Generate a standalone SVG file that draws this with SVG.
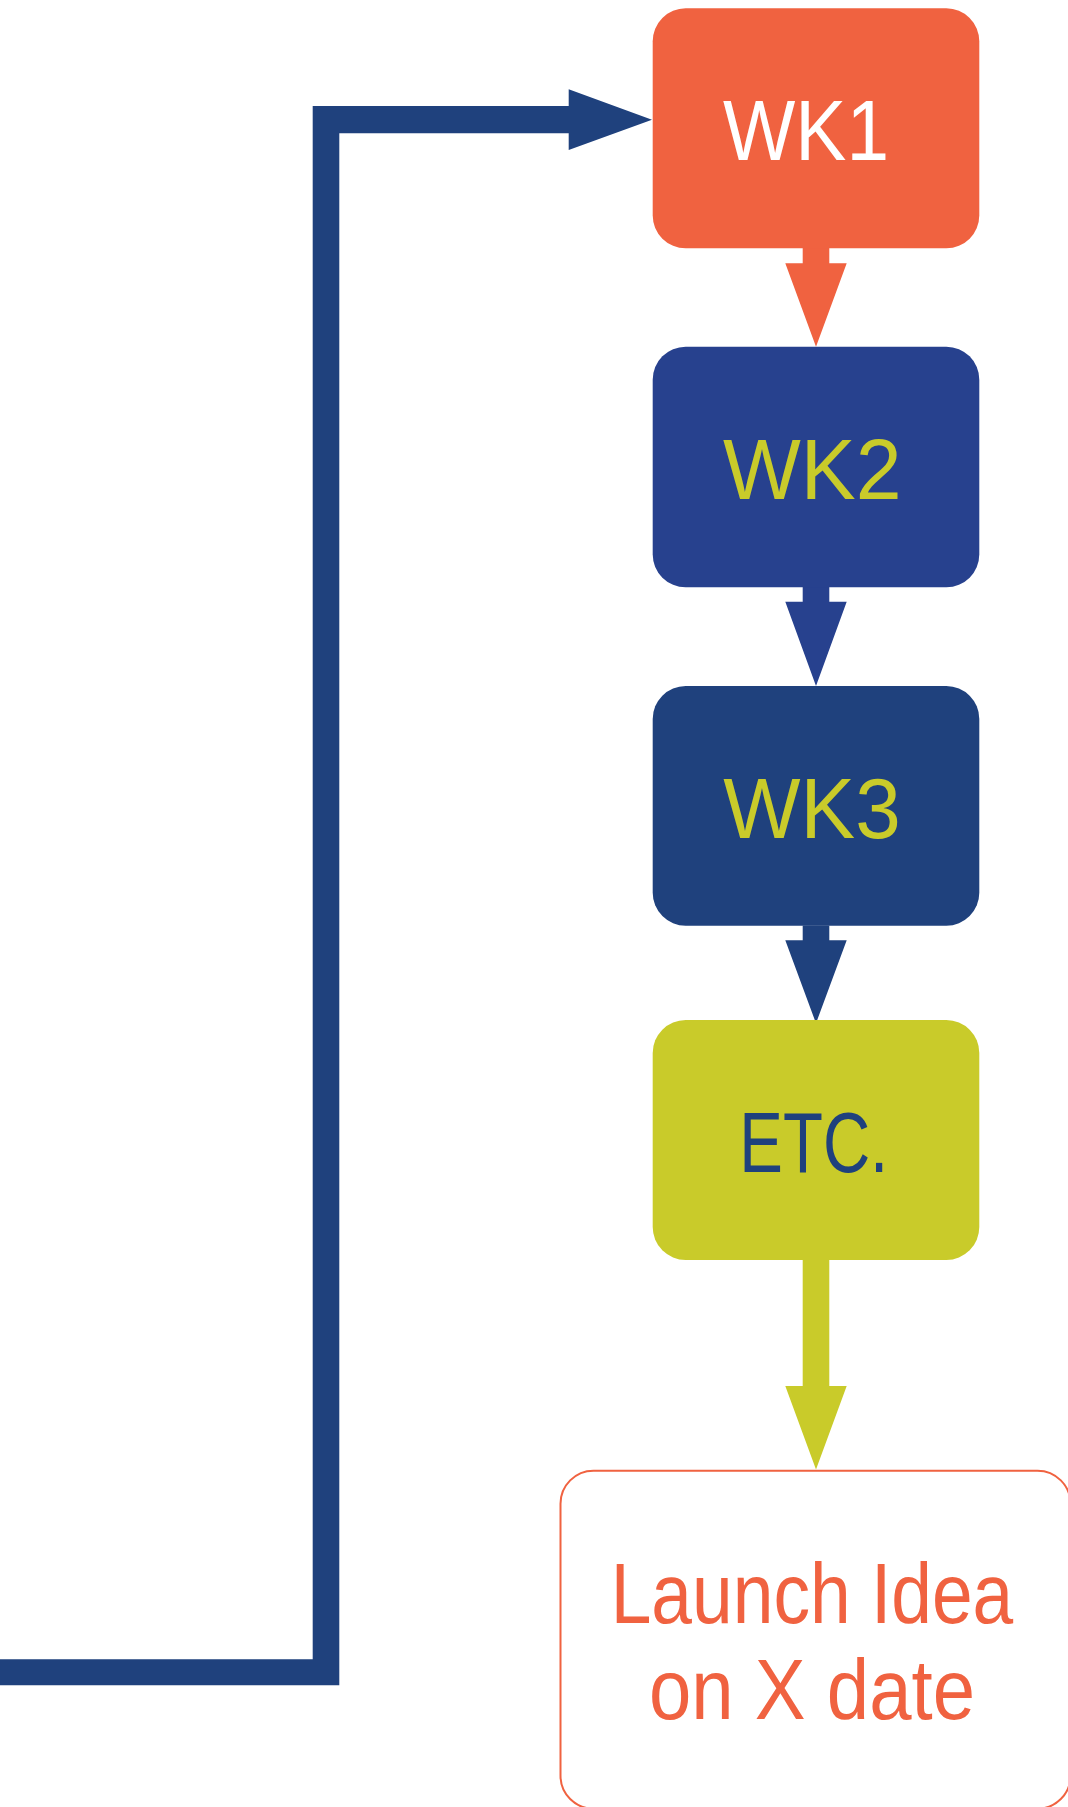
<svg xmlns="http://www.w3.org/2000/svg" width="1068" height="1807" viewBox="0 0 1068 1807">
<style>
text{font-family:"Liberation Sans","DejaVu Sans",sans-serif;font-size:85px}
.box{rx:33px;ry:33px}
</style>
<rect width="1068" height="1807" fill="#ffffff"/>
<g id="connectors">
<path id="feedback" d="M0,1659.3 H312.7 V106 H568.7 V89.3 L652,119.7 L568.7,150 V133.3 H339.3 V1685.3 H0 Z" fill="#1F417D"/>
<path id="c1" d="M802.7,248 H829.3 V263.3 H846.7 L816,346.7 L785.3,263.3 H802.7 Z" fill="#F06240"/>
<path id="c2" d="M802.7,587 H829.3 V601.7 H846.7 L816,686 L785.3,601.7 H802.7 Z" fill="#27418E"/>
<path id="c3" d="M802.7,925.5 H829.3 V940.3 H846.7 L816,1023.3 L785.3,940.3 H802.7 Z" fill="#1F417D"/>
<path id="c4" d="M802.7,1259.5 H829.3 V1386 H846.7 L816,1469.5 L785.3,1386 H802.7 Z" fill="#C9CB2A"/>
</g>
<g id="wk1">
<rect x="652.7" y="8.3" width="326.6" height="240" rx="33" fill="#F06240"/>
<text x="723" y="160" fill="#ffffff" textLength="166" lengthAdjust="spacingAndGlyphs">WK1</text>
</g>
<g id="wk2">
<rect x="652.7" y="346.7" width="326.6" height="240.6" rx="33" fill="#27418E"/>
<text x="723" y="499.3" fill="#C9CB2A" textLength="178.7" lengthAdjust="spacingAndGlyphs">WK2</text>
</g>
<g id="wk3">
<rect x="652.7" y="686" width="326.6" height="239.7" rx="33" fill="#1F417D"/>
<text x="723.3" y="837.7" fill="#C9CB2A" textLength="177.4" lengthAdjust="spacingAndGlyphs">WK3</text>
</g>
<g id="etc">
<rect x="652.7" y="1020" width="326.6" height="240" rx="33" fill="#C9CB2A"/>
<text x="739.3" y="1172.3" fill="#1F417D" textLength="149" lengthAdjust="spacingAndGlyphs">ETC.</text>
</g>
<g id="launch">
<rect x="560.5" y="1470.7" width="510" height="338" rx="33" fill="#ffffff" stroke="#F06240" stroke-width="2"/>
<text x="610.7" y="1623.3" fill="#F06240" textLength="402.6" lengthAdjust="spacingAndGlyphs">Launch Idea</text>
<text x="649" y="1719.3" fill="#F06240" textLength="326" lengthAdjust="spacingAndGlyphs">on X date</text>
</g>
</svg>
